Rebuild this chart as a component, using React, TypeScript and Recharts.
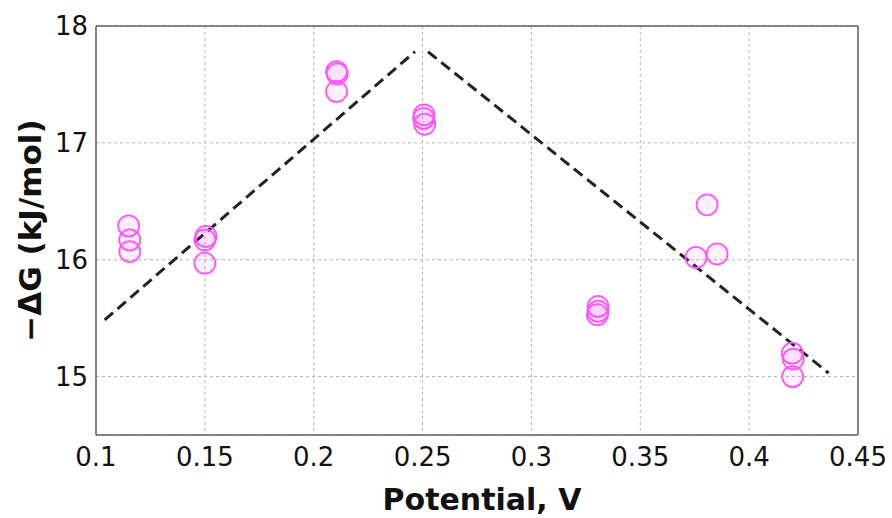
import { ScatterChart, Scatter, XAxis, YAxis, CartesianGrid, ReferenceLine, Label } from "recharts"

// measured points, grouped by potential
const potentials = [
  0.115, 0.1155, 0.1155,
  0.1505, 0.15, 0.15,
  0.2105, 0.2108, 0.2105,
  0.2507, 0.2505, 0.251,
  0.3306, 0.3306, 0.3303,
  0.3756, 0.3807, 0.3853,
  0.4198, 0.4203, 0.42,
]
const energies = [
  16.29, 16.17, 16.07,
  16.2, 16.17, 15.97,
  17.61, 17.59, 17.44,
  17.24, 17.21, 17.16,
  15.6, 15.56, 15.53,
  16.02, 16.47, 16.05,
  15.2, 15.15, 15.0,
]

// the two dashed trend lines (start/end)
const riseLine = [{ x: 0.104, y: 15.485 }, { x: 0.2465, y: 17.78 }]
const fallLine = [{ x: 0.2525, y: 17.78 }, { x: 0.4365, y: 15.03 }]

const xTicks = [0.1, 0.15, 0.2, 0.25, 0.3, 0.35, 0.4, 0.45]
const yTicks = [15, 16, 17, 18]

const points = potentials.map((x, i) => ({ x, y: energies[i] }))

const tickFont = { fontSize: 26, fill: "#111", fontFamily: "DejaVu Sans" }

const Ring = (props: any) => (
  <circle
    cx={props.cx}
    cy={props.cy}
    r={10.5}
    fill="#ff00ff"
    fillOpacity={0.06}
    stroke="#ff55ff"
    strokeWidth={1.8}
  />
)

export default function App() {
  return (
    <div style={{ position: "absolute", left: 0, top: 0, background: "#fff" }}>
      <ScatterChart width={892} height={518} margin={{ top: 26, right: 34, left: 0, bottom: 0 }}>
        <CartesianGrid stroke="#b5b5b5" strokeDasharray="3 3" />
        <XAxis
          type="number"
          dataKey="x"
          domain={[0.1, 0.45]}
          ticks={xTicks}
          tickFormatter={(v: number) => String(v)}
          tick={tickFont}
          tickSize={0}
          tickMargin={13}
          axisLine={{ stroke: "#606060", strokeWidth: 1.5 }}
          height={83}
        >
          <Label
            content={({ viewBox }: any) => (
              <text
                x={viewBox.x + viewBox.width / 2 + 5}
                y={viewBox.y + 75}
                textAnchor="middle"
                fontSize={30}
                fontWeight="bold"
                fontFamily="DejaVu Sans"
                fill="#111"
              >
                Potential, V
              </text>
            )}
          />
        </XAxis>
        <YAxis
          type="number"
          dataKey="y"
          domain={[14.5, 18]}
          ticks={yTicks}
          tick={tickFont}
          tickSize={0}
          tickMargin={8}
          axisLine={{ stroke: "#606060", strokeWidth: 1.5 }}
          width={96}
        >
          <Label
            content={({ viewBox }: any) => {
              const cx = 30
              const cy = viewBox.y + viewBox.height / 2
              return (
                <text
                  x={cx}
                  y={cy}
                  transform={`rotate(-90 ${cx} ${cy})`}
                  textAnchor="middle"
                  dominantBaseline="central"
                  fontSize={31}
                  fontWeight="bold"
                  fontFamily="DejaVu Sans"
                  fill="#111"
                >
                  −ΔG (kJ/mol)
                </text>
              )
            }}
          />
        </YAxis>
        <ReferenceLine y={18} stroke="#606060" strokeWidth={1.5} />
        <ReferenceLine x={0.45} stroke="#606060" strokeWidth={1.5} />
        <ReferenceLine segment={riseLine} stroke="#222" strokeWidth={3} strokeDasharray="11 6" />
        <ReferenceLine segment={fallLine} stroke="#222" strokeWidth={3} strokeDasharray="11 6" />
        <Scatter data={points} shape={Ring} isAnimationActive={false} />
      </ScatterChart>
    </div>
  )
}
